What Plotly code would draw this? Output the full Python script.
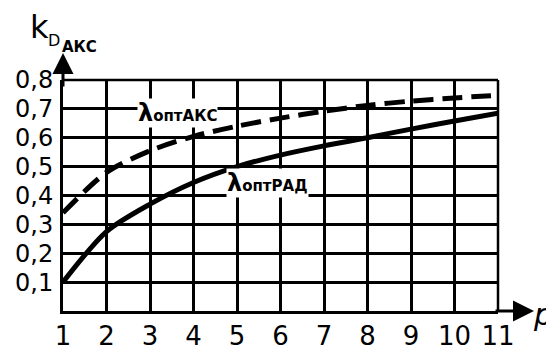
import plotly.graph_objects as go

p_vals = [1, 2, 3, 4, 5, 6, 7, 8, 9, 10, 11]
k_aks = [0.34, 0.48, 0.555, 0.605, 0.64, 0.668, 0.692, 0.712, 0.727, 0.738, 0.747]
k_rad = [0.10, 0.275, 0.37, 0.445, 0.50, 0.54, 0.572, 0.60, 0.63, 0.658, 0.685]
y_ticks = [0.1, 0.2, 0.3, 0.4, 0.5, 0.6, 0.7, 0.8]
y_ticktext = ["0,1", "0,2", "0,3", "0,4", "0,5", "0,6", "0,7", "0,8"]
x_ticktext = [str(v) for v in p_vals]

W, H = 554, 345
OFF = 8  # page body margin
L, R, T, B = 63 - OFF, 554 - (498 - OFF), 80 - OFF, 345 - (311 - OFF)
pw, ph = W - L - R, H - T - B

def px(x):
    return (x - OFF - L) / pw

def py(y):
    return (H - B - (y - OFF)) / ph

fig = go.Figure()
fig.add_trace(go.Scatter(x=p_vals, y=k_aks, mode="lines", line=dict(color="black", width=5, dash="20px,9px", shape="spline", smoothing=0.8), hoverinfo="skip"))
fig.add_trace(go.Scatter(x=p_vals, y=k_rad, mode="lines", line=dict(color="black", width=5, shape="spline", smoothing=0.8), hoverinfo="skip"))

font = "DejaVu Sans, Liberation Sans, Arial"

fig.update_layout(
    width=W, height=H, margin=dict(l=L, r=R, t=T, b=B, autoexpand=False),
    paper_bgcolor="white", plot_bgcolor="white", showlegend=False,
    font=dict(family=font, color="black"),
    xaxis=dict(range=[1, 11], tickvals=p_vals, ticktext=x_ticktext, showgrid=True, gridcolor="black", gridwidth=2.5,
               showline=True, linecolor="black", linewidth=3, zeroline=False, ticks="", automargin=False,
               tickfont=dict(size=26, family=font, color="black"), ticklabelstandoff=0, fixedrange=True),
    yaxis=dict(range=[0, 0.8], tickvals=y_ticks, ticktext=y_ticktext, showgrid=True, gridcolor="black", gridwidth=2.5,
               showline=True, linecolor="black", linewidth=3, zeroline=False, ticks="", automargin=False,
               tickfont=dict(size=24, family=font, color="black"), ticklabelstandoff=2, fixedrange=True),
    shapes=[
        dict(type="line", xref="paper", yref="paper", x0=1, x1=1, y0=0, y1=1, line=dict(color="black", width=2.5)),
        dict(type="line", xref="paper", yref="paper", x0=0, x1=1, y0=1, y1=1, line=dict(color="black", width=2.5)),
    ],
)

ann = [
    # axis arrows
    dict(xref="paper", yref="paper", x=px(534), y=0, ax=-40, ay=0, text="", showarrow=True,
         arrowhead=2, arrowsize=1.4, arrowwidth=3, arrowcolor="black", standoff=0),
    dict(xref="paper", yref="paper", x=0, y=py(53), ax=0, ay=35, text="", showarrow=True,
         arrowhead=2, arrowsize=1.4, arrowwidth=3, arrowcolor="black", standoff=0),
    # axis titles
    dict(xref="paper", yref="paper", x=px(543), y=py(314), text="<i>p</i>", showarrow=False,
         font=dict(size=30, family=font), xanchor="center", yanchor="middle", borderpad=0),
    dict(xref="paper", yref="paper", x=px(28), y=py(27), text="k", showarrow=False,
         font=dict(size=32, family=font), xanchor="left", yanchor="middle"),
    dict(xref="paper", yref="paper", x=px(46), y=py(40), text="D", showarrow=False,
         font=dict(size=16, family=font), xanchor="left", yanchor="middle"),
    dict(xref="paper", yref="paper", x=px(60), y=py(47), text="<b>АКС</b>", showarrow=False,
         font=dict(size=15, family=font), xanchor="left", yanchor="middle"),
    # curve labels
    dict(xref="x", yref="y", x=3.64, y=0.685, text="<b><span style='font-size:24px'>λ</span>оптАКС</b>",
         showarrow=False, bgcolor="white", font=dict(size=15, family=font), borderpad=0),
    dict(xref="x", yref="y", x=5.69, y=0.445, text="<b><span style='font-size:24px'>λ</span>оптРАД</b>",
         showarrow=False, bgcolor="white", font=dict(size=15, family=font), borderpad=0),
]
fig.update_layout(annotations=ann)

fig.write_html("out.html")
